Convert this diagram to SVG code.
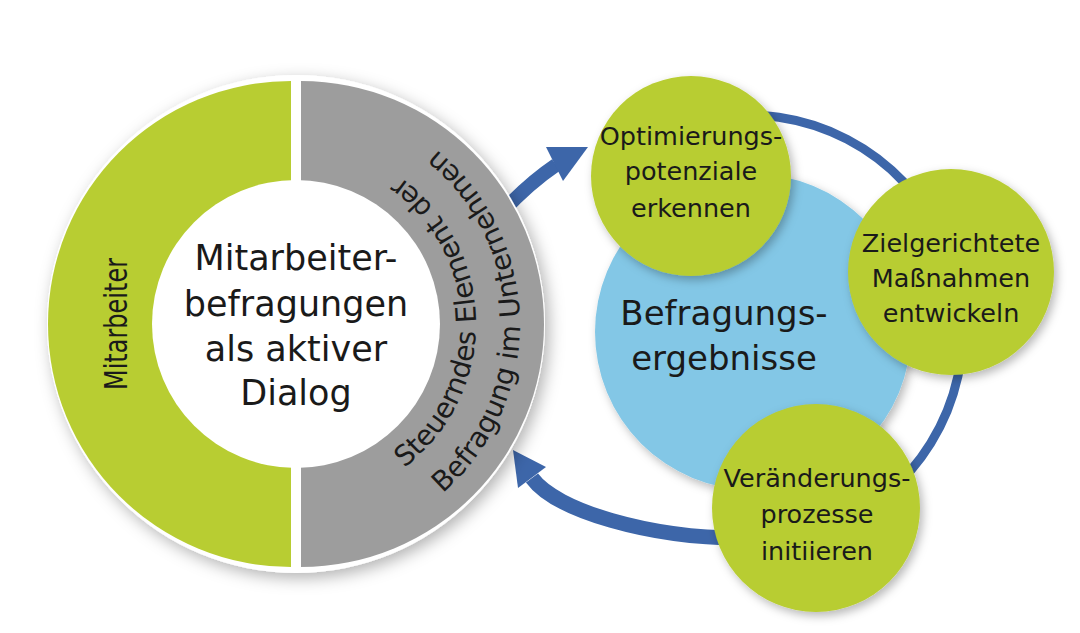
<svg xmlns="http://www.w3.org/2000/svg" width="1080" height="633" viewBox="0 0 1080 633">
<defs>
<filter id="sh" x="-20%" y="-20%" width="140%" height="140%">
<feDropShadow dx="3" dy="4" stdDeviation="5" flood-color="#000" flood-opacity="0.28"/>
</filter>
<filter id="shBig" x="-20%" y="-20%" width="140%" height="140%">
<feDropShadow dx="4" dy="5" stdDeviation="8" flood-color="#000" flood-opacity="0.3"/>
</filter>
<path id="arc1" d="M 330.3 500.7 A 180 180 0 0 0 324.2 146.2"/>
<path id="arc2" d="M 338.7 543.9 A 224 224 0 0 0 331.0 102.8"/>
</defs>
<style>
text { font-family: "DejaVu Sans", "Liberation Sans", sans-serif; fill: #1a1a1a; }
.green { fill: #b8cd32; }
.grey { fill: #9d9d9d; }
.lbl { font-size: 25.5px; text-anchor: middle; }
.big { font-size: 35px; text-anchor: middle; }
.arc { font-size: 28px; }
.conn { fill: none; stroke: #3d66a9; }
.head { fill: #3d66a9; }
</style>
<rect width="1080" height="633" fill="#ffffff"/>

<g id="connectors">
<path class="conn" stroke-width="9" d="M 710.7 118.3 A 215 215 0 0 1 886.2 494.7"/>
<path class="conn" stroke-width="14" d="M 495 220 Q 525 186 556 165"/>
<polygon class="head" points="588,147 546,147 563,181"/>
<path class="conn" stroke-width="15" d="M 740 538 C 650 538, 556 511, 532 478"/>
<polygon class="head" points="513,450 546,467 518,488"/>
</g>

<g id="left-circle">
<circle cx="296" cy="324" r="249" fill="#ffffff" filter="url(#shBig)"/>
<path class="green" d="M 291 81 A 243 243 0 0 0 291 567 Z"/>
<path class="grey" d="M 301 81 A 243 243 0 0 1 301 567 Z"/>
<circle cx="296" cy="324" r="144" fill="#ffffff"/>
<text class="big" x="296" y="270">Mitarbeiter-</text>
<text class="big" x="296" y="316">befragungen</text>
<text class="big" x="296" y="361">als aktiver</text>
<text class="big" x="296" y="405">Dialog</text>
<text font-size="32" text-anchor="middle" transform="translate(127,324) rotate(-90) scale(0.75,1)">Mitarbeiter</text>
<text class="arc"><textPath href="#arc1" startOffset="50%" text-anchor="middle">Steuerndes Element der</textPath></text>
<text class="arc"><textPath href="#arc2" startOffset="50%" text-anchor="middle">Befragung im Unternehmen</textPath></text>
</g>

<g id="ergebnisse">
<circle cx="753" cy="332" r="158" fill="#83c7e6" filter="url(#sh)"/>
<text font-size="34" text-anchor="middle" x="724" y="325">Befragungs-</text>
<text font-size="34" text-anchor="middle" x="724" y="370">ergebnisse</text>
</g>

<g id="optimierung">
<circle class="green" cx="691" cy="176" r="100" filter="url(#sh)"/>
<text class="lbl" x="691" y="145">Optimierungs-</text>
<text class="lbl" x="691" y="180">potenziale</text>
<text class="lbl" x="691" y="217">erkennen</text>
</g>

<g id="massnahmen">
<circle class="green" cx="951" cy="272" r="103" filter="url(#sh)"/>
<text class="lbl" x="951" y="252">Zielgerichtete</text>
<text class="lbl" x="951" y="287">Maßnahmen</text>
<text class="lbl" x="951" y="322">entwickeln</text>
</g>

<g id="veraenderung">
<circle class="green" cx="816" cy="508" r="104" filter="url(#sh)"/>
<text class="lbl" x="817" y="487">Veränderungs-</text>
<text class="lbl" x="817" y="523">prozesse</text>
<text class="lbl" x="817" y="560">initiieren</text>
</g>
</svg>
